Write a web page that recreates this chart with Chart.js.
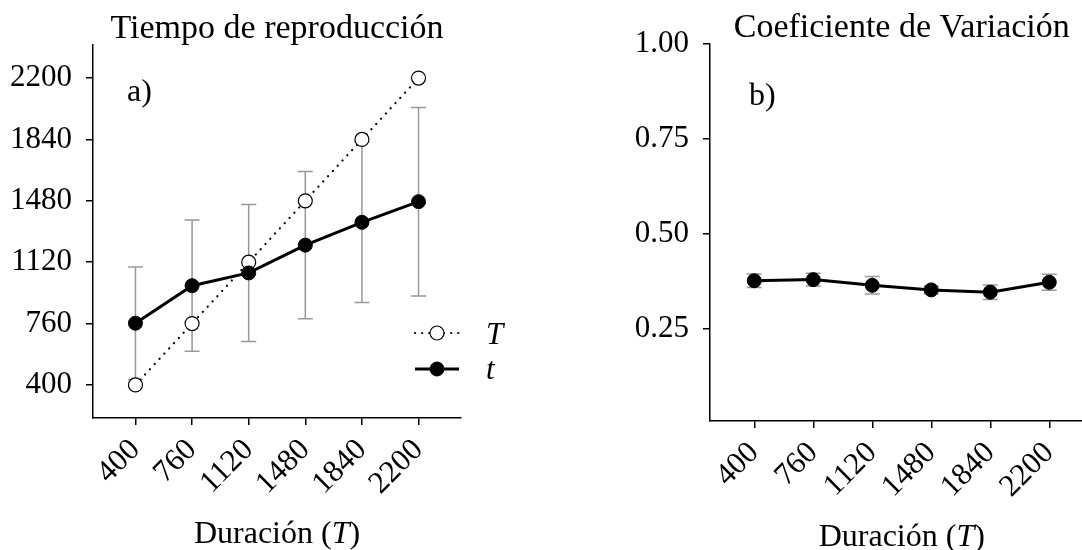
<!DOCTYPE html>
<html>
<head>
<meta charset="utf-8">
<script src="https://cdn.jsdelivr.net/npm/chart.js@4/dist/chart.umd.min.js"></script>
<style>
  html, body { margin: 0; padding: 0; background: #fff; overflow: hidden; width: 1082px; height: 550px; }
  canvas { position: absolute; top: 0; }
  #timeChart { left: 0; }
  #cvChart { left: 580px; }
</style>
</head>
<body>
<canvas id="timeChart" width="541" height="550"></canvas>
<canvas id="cvChart" width="560" height="550"></canvas>
<script>
// Durations of the target interval (T)
const durations = [400, 760, 1120, 1480, 1840, 2200];
// Target time T (identity) and mean reproduced time t with its standard deviation
const targetTime = [400, 760, 1120, 1480, 1840, 2200];
const producedTime = [762, 982, 1057, 1220, 1354, 1475];
const producedSd = [330, 385, 402, 432, 470, 553];
// Coefficient of variation per duration and its error
const cvMean = [0.377, 0.380, 0.365, 0.353, 0.347, 0.373];
const cvErr = [0.018, 0.017, 0.023, 0.010, 0.019, 0.021];
// Axis tick values
const timeTicks = [400, 760, 1120, 1480, 1840, 2200];
const cvTicks = [0.25, 0.50, 0.75, 1.00];

const SERIF = '"Liberation Serif", "Times New Roman", serif';
Chart.defaults.font.family = SERIF;
Chart.defaults.color = '#000';

const toPoints = (xs, ys) => xs.map((x, i) => ({ x: x, y: ys[i] }));

// Vertical error bars with caps, drawn under the points
const errorBars = {
  id: 'errorBars',
  beforeDatasetsDraw(chart, args, opts) {
    if (!opts || !opts.errors) return;
    const ds = chart.data.datasets[opts.datasetIndex];
    const xs = chart.scales.x, ys = chart.scales.y;
    const ctx = chart.ctx;
    ctx.save();
    ctx.strokeStyle = opts.color;
    ctx.lineWidth = opts.width;
    ds.data.forEach((p, i) => {
      const x = xs.getPixelForValue(p.x);
      const lo = ys.getPixelForValue(p.y - opts.errors[i]);
      const hi = ys.getPixelForValue(p.y + opts.errors[i]);
      ctx.beginPath();
      ctx.moveTo(x, lo); ctx.lineTo(x, hi);
      ctx.moveTo(x - opts.cap, lo); ctx.lineTo(x + opts.cap, lo);
      ctx.moveTo(x - opts.cap, hi); ctx.lineTo(x + opts.cap, hi);
      ctx.stroke();
    });
    ctx.restore();
  }
};

// Panel title, panel letter, x-axis title with italic symbol, optional key
const decorations = {
  id: 'decorations',
  afterDraw(chart, args, opts) {
    const ctx = chart.ctx;
    const area = chart.chartArea;
    const cx = (area.left + area.right) / 2;
    ctx.save();
    ctx.fillStyle = '#000';
    ctx.textBaseline = 'alphabetic';

    // panel title
    ctx.font = opts.titleSize + 'px ' + SERIF;
    ctx.textAlign = 'center';
    ctx.fillText(opts.title, cx, area.top - opts.titleGap);

    // panel letter
    ctx.font = opts.letterSize + 'px ' + SERIF;
    ctx.textAlign = 'left';
    ctx.fillText(opts.letter, opts.letterX, opts.letterY);

    // x-axis title: "Duración (" + italic T + ")"
    const parts = [
      { t: 'Duración (', f: opts.axisSize + 'px ' + SERIF },
      { t: 'T', f: 'italic ' + opts.axisSize + 'px ' + SERIF },
      { t: ')', f: opts.axisSize + 'px ' + SERIF }
    ];
    let total = 0;
    parts.forEach(p => { ctx.font = p.f; p.w = ctx.measureText(p.t).width; total += p.w; });
    let x = cx - total / 2;
    const by = area.bottom + opts.axisGap;
    parts.forEach(p => { ctx.font = p.f; ctx.fillText(p.t, x, by); x += p.w; });

    // key
    if (opts.key) {
      const k = opts.key;
      k.rows.forEach(row => {
        const ds = chart.data.datasets[row.dataset];
        const mid = (k.x1 + k.x2) / 2;
        ctx.save();
        ctx.strokeStyle = ds.borderColor;
        ctx.lineWidth = ds.borderWidth;
        ctx.lineCap = ds.borderCapStyle || 'butt';
        ctx.setLineDash(ds.borderDash || []);
        ctx.beginPath();
        ctx.moveTo(k.x1, row.y); ctx.lineTo(mid - ds.pointRadius, row.y);
        ctx.moveTo(mid + ds.pointRadius, row.y); ctx.lineTo(k.x2, row.y);
        ctx.stroke();
        ctx.setLineDash([]);
        ctx.beginPath();
        ctx.arc(mid, row.y, ds.pointRadius, 0, Math.PI * 2);
        ctx.fillStyle = ds.pointBackgroundColor;
        ctx.fill();
        ctx.lineWidth = ds.pointBorderWidth;
        ctx.strokeStyle = ds.pointBorderColor;
        ctx.stroke();
        ctx.restore();
        ctx.font = 'italic ' + k.size + 'px ' + SERIF;
        ctx.textAlign = 'left';
        ctx.fillText(row.label, k.textX, row.baseline);
      });
    }
    ctx.restore();
  }
};

function axisOptions(cfg) {
  const tickFont = { family: SERIF, size: cfg.tickSize };
  return {
    x: {
      type: 'linear',
      min: 130, max: 2470,
      afterBuildTicks: s => { s.ticks = durations.map(v => ({ value: v })); },
      afterFit: s => { s.height = cfg.xHeight; },
      ticks: { font: tickFont, color: '#000', minRotation: 45, maxRotation: 45, padding: cfg.xPad,
               autoSkip: false, callback: v => String(v) },
      grid: { display: true, drawOnChartArea: false, drawTicks: true, tickLength: 7, color: '#000', lineWidth: 1.5 },
      border: { display: true, color: '#000', width: 1.5 }
    },
    y: {
      type: 'linear',
      min: cfg.yMin, max: cfg.yMax,
      afterBuildTicks: s => { s.ticks = cfg.yTicks.map(v => ({ value: v })); },
      afterFit: s => { s.width = cfg.yWidth; },
      ticks: { font: tickFont, color: '#000', padding: 14, autoSkip: false, callback: cfg.yFormat },
      grid: { display: true, drawOnChartArea: false, drawTicks: true, tickLength: 7, color: '#000', lineWidth: 1.5 },
      border: { display: true, color: '#000', width: 1.5 }
    }
  };
}

const openStyle = {
  borderColor: '#000', borderWidth: 2.2, borderDash: [0.1, 7], borderCapStyle: 'round',
  pointRadius: 7, pointBackgroundColor: '#fff', pointBorderColor: '#000', pointBorderWidth: 1.2,
  pointHoverRadius: 7
};
const filledStyle = {
  borderColor: '#000', borderWidth: 3,
  pointRadius: 7, pointBackgroundColor: '#000', pointBorderColor: '#000', pointBorderWidth: 1,
  pointHoverRadius: 7
};

// a) Reproduction time
new Chart(document.getElementById('timeChart'), {
  type: 'line',
  data: {
    datasets: [
      Object.assign({ label: 't', data: toPoints(durations, producedTime), order: 0 }, filledStyle),
      Object.assign({ label: 'T', data: toPoints(durations, targetTime), order: 1 }, openStyle)
    ]
  },
  options: {
    responsive: false, animation: false,
    layout: { padding: { left: 0, right: 80, top: 45, bottom: 0 } },
    elements: { line: { tension: 0 } },
    plugins: {
      legend: { display: false }, tooltip: { enabled: false },
      errorBars: { datasetIndex: 0, errors: producedSd, color: '#999999', width: 1.5, cap: 7.5 },
      decorations: {
        title: 'Tiempo de reproducción', titleSize: 34, titleGap: 7,
        letter: 'a)', letterSize: 32, letterX: 127, letterY: 101,
        axisSize: 32, axisGap: 125,
        key: { x1: 415, x2: 459, size: 31, textX: 486,
               rows: [ { dataset: 1, label: 'T', y: 333, baseline: 344 },
                       { dataset: 0, label: 't', y: 369, baseline: 379 } ] }
      }
    },
    scales: axisOptions({
      tickSize: 31, xHeight: 132, xPad: 7, yWidth: 93,
      yMin: 206, yMax: 2394, yTicks: timeTicks, yFormat: v => String(v)
    })
  },
  plugins: [errorBars, decorations]
});

// b) Coefficient of variation
new Chart(document.getElementById('cvChart'), {
  type: 'line',
  data: {
    datasets: [
      Object.assign({ label: 'CV', data: toPoints(durations, cvMean), order: 0 }, filledStyle)
    ]
  },
  options: {
    responsive: false, animation: false,
    layout: { padding: { left: 0, right: 46.5, top: 44, bottom: 0 } },
    elements: { line: { tension: 0 } },
    plugins: {
      legend: { display: false }, tooltip: { enabled: false },
      errorBars: { datasetIndex: 0, errors: cvErr, color: '#999999', width: 1.5, cap: 7.5 },
      decorations: {
        title: 'Coeficiente de Variación', titleSize: 34, titleGap: 7,
        letter: 'b)', letterSize: 32, letterX: 169, letterY: 105,
        axisSize: 32, axisGap: 125
      }
    },
    scales: axisOptions({
      tickSize: 31, xHeight: 129, xPad: 7, yWidth: 130,
      yMin: 0.008, yMax: 1.0, yTicks: cvTicks, yFormat: v => Number(v).toFixed(2)
    })
  },
  plugins: [errorBars, decorations]
});
</script>
</body>
</html>
